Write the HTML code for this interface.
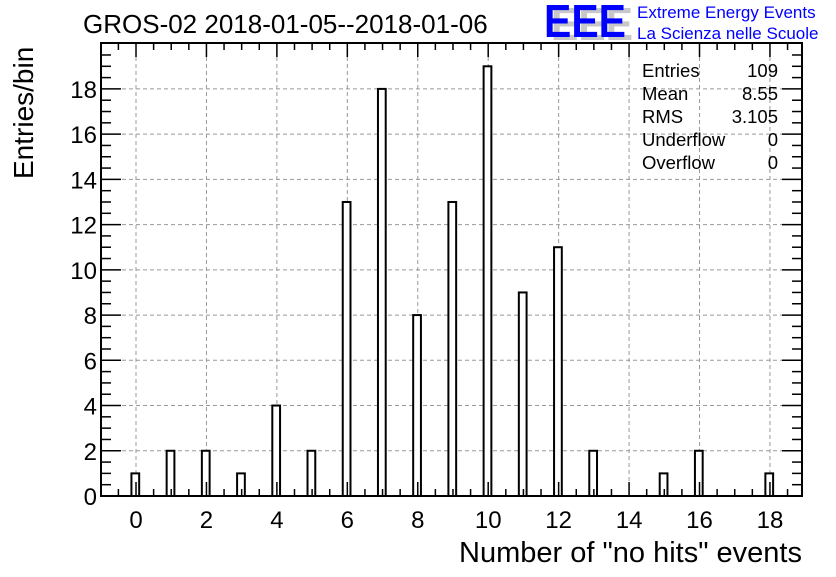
<!DOCTYPE html>
<html><head><meta charset="utf-8"><style>
body{margin:0;background:#fff;width:836px;height:572px;overflow:hidden;font-family:"Liberation Sans",sans-serif}
</style></head><body>
<svg id="c" width="836" height="572" xmlns="http://www.w3.org/2000/svg" font-family="Liberation Sans, sans-serif">
<text x="83" y="33" font-size="26">GROS-02 2018-01-05--2018-01-06</text>
<g>
<text x="551" y="40" font-size="46" font-weight="bold" fill="#c8c8c8" textLength="82" lengthAdjust="spacingAndGlyphs">EEE</text>
<text x="544" y="37" font-size="46" font-weight="bold" fill="#0000ff" textLength="82" lengthAdjust="spacingAndGlyphs">EEE</text>
<text x="637" y="18" font-size="17" fill="#0000ff">Extreme Energy Events</text>
<text x="637" y="39" font-size="17" fill="#0000ff">La Scienza nelle Scuole</text>
</g>
<g id="grid"></g>
<g id="bars"></g>
<g id="axes"></g>
<rect x="101" y="43" width="701" height="453" fill="none" stroke="#000" stroke-width="2"/>
<g font-size="18.5">
<text x="642" y="77">Entries</text><text x="778" y="77" text-anchor="end">109</text>
<text x="642" y="100">Mean</text><text x="778" y="100" text-anchor="end">8.55</text>
<text x="642" y="123">RMS</text><text x="778" y="123" text-anchor="end">3.105</text>
<text x="642" y="146">Underflow</text><text x="778" y="146" text-anchor="end">0</text>
<text x="642" y="169">Overflow</text><text x="778" y="169" text-anchor="end">0</text>
</g>
<text transform="translate(33,179) rotate(-90)" font-size="28">Entries/bin</text>
<text x="802" y="562" font-size="29" text-anchor="end">Number of "no hits" events</text>
</svg>
<script>
const categories=[0,1,2,3,4,5,6,7,8,9,10,11,12,13,15,16,18];
const counts=[1,2,2,1,4,2,13,18,8,13,19,9,11,2,1,2,1];
const xTicks=[0,2,4,6,8,10,12,14,16,18];
const yTicks=[0,2,4,6,8,10,12,14,16,18];
const NS="http://www.w3.org/2000/svg";
const L=101,R=802,T=43,B=496;
const X0=-0.994,X1=18.91,Y0=0,Y1=20.03;
const sx=v=>L+(v-X0)/(X1-X0)*(R-L);
const sy=v=>B-(v-Y0)/(Y1-Y0)*(B-T);
function mk(tag,attrs,parent){const e=document.createElementNS(NS,tag);for(const k in attrs)e.setAttribute(k,attrs[k]);parent.appendChild(e);return e;}
const grid=document.getElementById('grid'),bars=document.getElementById('bars'),axes=document.getElementById('axes');
xTicks.forEach(v=>{const l=mk('line',{x1:sx(v),x2:sx(v),y1:T,y2:B,stroke:'#999','stroke-dasharray':'4,3','stroke-width':1},grid);


const t=mk('text',{x:sx(v),y:528,'font-size':24,'text-anchor':'middle'},axes);t.textContent=v;

});
yTicks.forEach(v=>{if(v>0){const l=mk('line',{x1:L,x2:R,y1:sy(v),y2:sy(v),stroke:'#999','stroke-dasharray':'4,3','stroke-width':1},grid);

}
const t=mk('text',{x:97,y:sy(v)+9,'font-size':24,'text-anchor':'end'},axes);t.textContent=v;

});
categories.forEach((c,i)=>{const x=sx(c-0.13),w=sx(c+0.09)-x;
const r=mk('rect',{x:x,y:sy(counts[i]),width:w,height:B-sy(counts[i]),fill:'#fff',stroke:'#000','stroke-width':2},bars);

});
for(let v=-0.5;v<=18.9;v+=0.5){const maj=Math.abs(v%2)<1e-6,h=maj?14:7;
mk('line',{x1:sx(v),x2:sx(v),y1:B,y2:B-h,stroke:'#000','stroke-width':1.5},axes);
mk('line',{x1:sx(v),x2:sx(v),y1:T,y2:T+h,stroke:'#000','stroke-width':1.5},axes);}
for(let v=0.5;v<20;v+=0.5){const maj=Math.abs(v%2)<1e-6,h=maj?20:10;
mk('line',{x1:L,x2:L+h,y1:sy(v),y2:sy(v),stroke:'#000','stroke-width':1.5},axes);
mk('line',{x1:R,x2:R-h,y1:sy(v),y2:sy(v),stroke:'#000','stroke-width':1.5},axes);}
</script>
</body></html>
